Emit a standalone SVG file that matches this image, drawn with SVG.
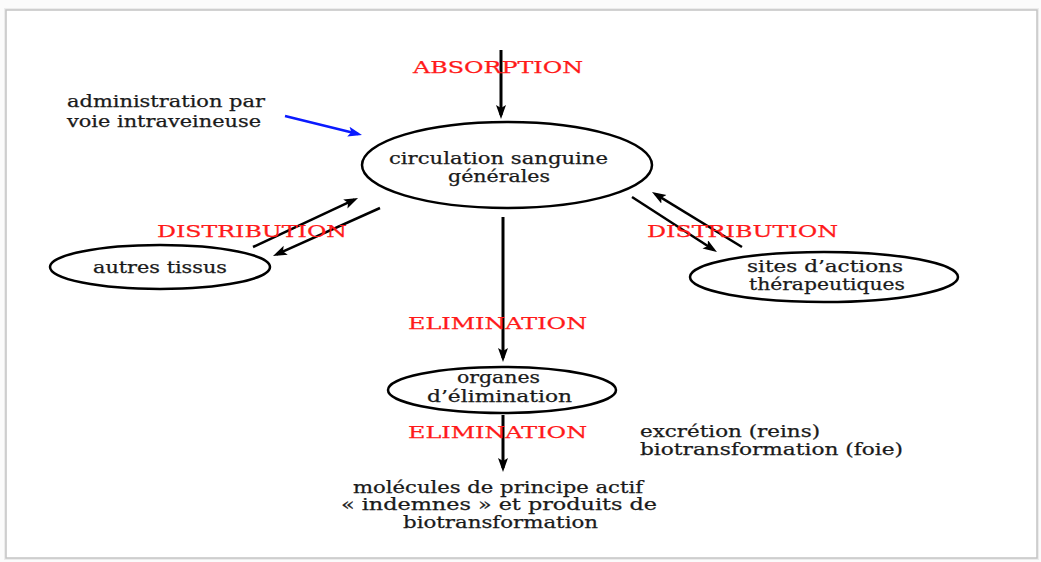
<svg xmlns="http://www.w3.org/2000/svg" width="1041" height="562" viewBox="0 0 1041 562">
<style>
.t{font-family:"DejaVu Serif","Liberation Serif",serif;font-size:16px;fill:#1a1a1a;stroke:#1a1a1a;stroke-width:0.25}
.r{font-family:"DejaVu Serif","Liberation Serif",serif;font-size:16px;fill:#ff1a1a;stroke:#ff1a1a;stroke-width:0.25}
.n{fill:none;stroke:#000;stroke-width:2.5}
.c{stroke:#000;stroke-width:3;fill:none}
.d{stroke:#000;stroke-width:2.5;fill:none}
</style>
<defs>
<marker id="ah" markerUnits="userSpaceOnUse" markerWidth="16" markerHeight="12" refX="10" refY="5" orient="auto">
<path d="M0,0 L14,5 L0,10 L3,5 z" fill="#000"/>
</marker>
<marker id="bh" markerUnits="userSpaceOnUse" markerWidth="16" markerHeight="12" refX="10" refY="5" orient="auto">
<path d="M0,0 L14,5 L0,10 L3,5 z" fill="#0a1aff"/>
</marker>
</defs>
<rect x="0" y="0" width="1041" height="562" fill="#fbfbfb"/>
<rect x="6" y="10" width="1031" height="548" fill="none" stroke="#ececec" stroke-width="4"/>
<rect x="6" y="10" width="1031" height="548" fill="#fff" stroke="#c4c4c4" stroke-width="1.5"/>

<g id="connectors">
<line class="c" x1="501" y1="50" x2="501" y2="115" marker-end="url(#ah)"/>
<line x1="285" y1="116" x2="358.1" y2="134" stroke="#0a1aff" stroke-width="2.5" marker-end="url(#bh)"/>
<line class="d" x1="253" y1="247" x2="354.4" y2="199.7" marker-end="url(#ah)"/>
<line class="d" x1="380" y1="208" x2="276.6" y2="254.4" marker-end="url(#ah)"/>
<line class="d" x1="632" y1="197" x2="713.6" y2="249.8" marker-end="url(#ah)"/>
<line class="d" x1="742" y1="247" x2="655.4" y2="194.1" marker-end="url(#ah)"/>
<line class="c" x1="503" y1="217" x2="503" y2="358" marker-end="url(#ah)"/>
<line class="c" x1="503" y1="415" x2="503" y2="468" marker-end="url(#ah)"/>
</g>

<g id="labels">
<text class="r" x="413" y="73" textLength="170" lengthAdjust="spacingAndGlyphs">ABSORPTION</text>
<text class="r" x="157" y="237" textLength="190" lengthAdjust="spacingAndGlyphs">DISTRIBUTION</text>
<text class="r" x="647" y="237" textLength="191" lengthAdjust="spacingAndGlyphs">DISTRIBUTION</text>
<text class="r" x="408" y="329" textLength="179" lengthAdjust="spacingAndGlyphs">ELIMINATION</text>
<text class="r" x="408" y="438" textLength="179" lengthAdjust="spacingAndGlyphs">ELIMINATION</text>
</g>

<g id="admin-iv">
<text class="t" x="67" y="107" textLength="198" lengthAdjust="spacingAndGlyphs">administration par</text>
<text class="t" x="67" y="127" textLength="194" lengthAdjust="spacingAndGlyphs">voie intraveineuse</text>
</g>

<g id="circulation">
<ellipse class="n" cx="507" cy="165" rx="145" ry="43"/>
<text class="t" x="389" y="164" textLength="219" lengthAdjust="spacingAndGlyphs">circulation sanguine</text>
<text class="t" x="448" y="182" textLength="102" lengthAdjust="spacingAndGlyphs">générales</text>
</g>

<g id="autres-tissus">
<ellipse class="n" cx="160" cy="267" rx="110" ry="22"/>
<text class="t" x="93" y="273" textLength="134" lengthAdjust="spacingAndGlyphs">autres tissus</text>
</g>

<g id="sites">
<ellipse class="n" cx="824" cy="277" rx="134" ry="25"/>
<text class="t" x="747" y="272" textLength="156" lengthAdjust="spacingAndGlyphs">sites d’actions</text>
<text class="t" x="749" y="290" textLength="156" lengthAdjust="spacingAndGlyphs">thérapeutiques</text>
</g>

<g id="organes">
<ellipse class="n" cx="502" cy="390" rx="114" ry="23"/>
<text class="t" x="457" y="383" textLength="83" lengthAdjust="spacingAndGlyphs">organes</text>
<text class="t" x="427" y="402" textLength="145" lengthAdjust="spacingAndGlyphs">d’élimination</text>
</g>

<g id="excretion">
<text class="t" x="640" y="437" textLength="180" lengthAdjust="spacingAndGlyphs">excrétion (reins)</text>
<text class="t" x="640" y="455" textLength="263" lengthAdjust="spacingAndGlyphs">biotransformation (foie)</text>
</g>

<g id="molecules">
<text class="t" x="353" y="493" textLength="290" lengthAdjust="spacingAndGlyphs">molécules de principe actif</text>
<text class="t" x="341" y="510" textLength="316" lengthAdjust="spacingAndGlyphs">«  indemnes  » et produits de</text>
<text class="t" x="403" y="528" textLength="195" lengthAdjust="spacingAndGlyphs">biotransformation</text>
</g>
</svg>
